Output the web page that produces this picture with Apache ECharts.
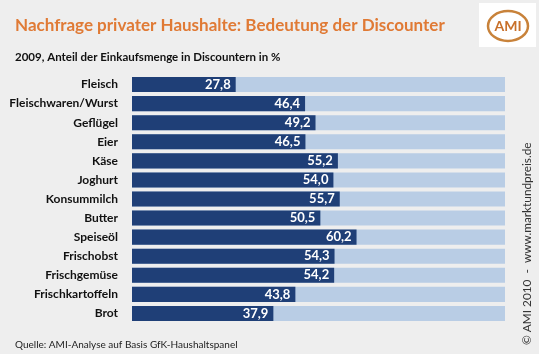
<!DOCTYPE html>
<html>
<head>
<meta charset="utf-8">
<script src="https://cdn.jsdelivr.net/npm/echarts@6/dist/echarts.min.js"></script>
<style>
  html, body { margin: 0; padding: 0; background: #eeeeee; }
  #chart-container { width: 539px; height: 354px; }
</style>
</head>
<body>
<div id="chart-container"></div>
<script>
// Produkte und Anteil der Einkaufsmenge in Discountern (%)
var products = ['Fleisch', 'Fleischwaren/Wurst', 'Geflügel', 'Eier', 'Käse', 'Joghurt',
  'Konsummilch', 'Butter', 'Speiseöl', 'Frischobst', 'Frischgemüse', 'Frischkartoffeln', 'Brot'];
var shares = [27.8, 46.4, 49.2, 46.5, 55.2, 54.0, 55.7, 50.5, 60.2, 54.3, 54.2, 43.8, 37.9];

var chartDom = document.getElementById('chart-container');
var myChart = echarts.init(chartDom);

var font = 'Lato, "Open Sans", sans-serif';

option = {
  backgroundColor: '#eeeeee',
  textStyle: { fontFamily: font },
  title: [
    {
      text: 'Nachfrage privater Haushalte: Bedeutung der Discounter',
      left: 10,
      top: 12,
      textStyle: { color: '#e07a35', fontSize: 17, fontWeight: 'bold', fontFamily: font }
    },
    {
      text: '2009, Anteil der Einkaufsmenge in Discountern in %',
      left: 10,
      top: 46,
      textStyle: { color: '#111', fontSize: 11.5, fontWeight: 'bold', fontFamily: font }
    },
    {
      text: 'Quelle: AMI-Analyse auf Basis GfK-Haushaltspanel',
      left: 10,
      top: 335,
      textStyle: { color: '#222', fontSize: 10, fontWeight: 'normal', fontFamily: font }
    }
  ],
  grid: { left: 132, right: 34, top: 75, bottom: 31 },
  xAxis: { type: 'value', min: 0, max: 100, show: false },
  yAxis: {
    type: 'category',
    data: products,
    inverse: true,
    axisLine: { show: false },
    axisTick: { show: false },
    axisLabel: { color: '#111', fontWeight: 'bold', fontSize: 12, margin: 14, fontFamily: font }
  },
  series: [
    {
      type: 'bar',
      data: shares,
      barWidth: '79%',
      itemStyle: { color: '#1f3f77' },
      showBackground: true,
      backgroundStyle: { color: '#b9cde5' },
      label: {
        show: true,
        position: 'insideRight',
        color: '#fff',
        fontWeight: 'bold',
        fontSize: 13,
        fontFamily: font,
        formatter: function (p) { return p.value.toFixed(1).replace('.', ','); }
      }
    }
  ],
  graphic: [
    {
      type: 'text',
      x: 521,
      y: 345,
      rotation: Math.PI / 2,
      style: {
        text: '© AMI 2010  -  www.marktundpreis.de',
        fill: '#333',
        fontSize: 11.8,
        fontFamily: font
      }
    },
    { type: 'rect', shape: { x: 479, y: 3, width: 57, height: 44 }, style: { fill: '#fff' } },
    { type: 'ellipse', shape: { cx: 508, cy: 26, rx: 20, ry: 15 }, style: { fill: 'none', stroke: '#c8823a', lineWidth: 2.5 } },
    {
      type: 'text',
      x: 508,
      y: 26,
      style: { text: 'AMI', fill: '#c8702a', fontSize: 14, fontWeight: 'bold', fontFamily: font, align: 'center', verticalAlign: 'middle' }
    }
  ]
};

option && myChart.setOption(option);
</script>
</body>
</html>
